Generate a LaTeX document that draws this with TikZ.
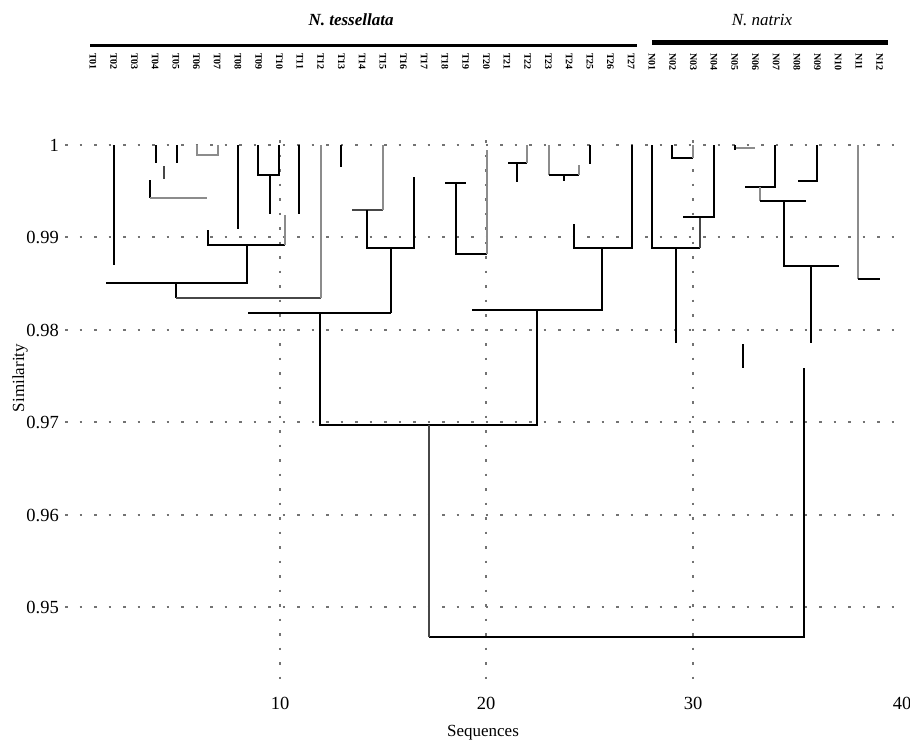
\documentclass[tikz,border=0pt]{standalone}
\usepackage{fontspec}
\setmainfont{Liberation Serif}
\begin{document}
\begin{tikzpicture}[x=1pt,y=-1pt,
  br/.style={line width=2.6pt, black},
  gr/.style={line width=2.6pt, black!45},
  dg/.style={line width=2.6pt, black!72},
  gridline/.style={line width=2.2pt, black!55, dash pattern=on 2.5pt off 12pt},
  ticklab/.style={font=\fontsize{18.5}{18.5}\selectfont, inner sep=1pt},
  leaflab/.style={font=\fontsize{10}{10}\selectfont\bfseries, rotate=-90, anchor=west, inner sep=0pt},
  head/.style={font=\fontsize{17}{17}\selectfont\itshape}]
\useasboundingbox (0,0) rectangle (910,744);
% grid
\foreach \yy in {145,237,330,422,515,607} \draw[gridline] (65,\yy) -- (895,\yy);
\foreach \xx in {280,486,693} \draw[gridline] (\xx,140) -- (\xx,690);
% axis labels
\node[ticklab, anchor=east] (y100) at (60,145) {1};
\node[ticklab, anchor=east] (y099) at (60,237) {0.99};
\node[ticklab, anchor=east] (y098) at (60,330) {0.98};
\node[ticklab, anchor=east] (y097) at (60,422) {0.97};
\node[ticklab, anchor=east] (y096) at (60,515) {0.96};
\node[ticklab, anchor=east] (y095) at (60,607) {0.95};
\node[ticklab] (x10) at (280,703) {10};
\node[ticklab] (x20) at (486,703) {20};
\node[ticklab] (x30) at (693,703) {30};
\node[ticklab] (x40) at (902,703) {40};
\node[ticklab, font=\fontsize{17}{17}\selectfont] (xlab) at (483,733) {Sequences};
\node[ticklab, font=\fontsize{17}{17}\selectfont, rotate=90] (ylab) at (20,378) {Similarity};
% headers
\node[head, font=\fontsize{17}{17}\selectfont\bfseries\itshape] (ht) at (351,20) {N. tessellata};
\node[head] (hn) at (762,20) {N. natrix};
\draw[line width=3pt] (90,45) -- (637,45);
\draw[line width=5pt] (652,42) -- (888,42);
% leaf labels
\foreach \i in {1,...,9} \node[leaflab] (lt\i) at ({93+(\i-1)*20.7},53) {T0\i};
\foreach \i in {10,...,27} \node[leaflab] (lt\i) at ({93+(\i-1)*20.7},53) {T\i};
\foreach \i in {1,...,9} \node[leaflab] (ln\i) at ({93+(\i+26)*20.7},53) {N0\i};
\foreach \i in {10,...,12} \node[leaflab] (ln\i) at ({93+(\i+26)*20.7},53) {N\i};
% N. tessellata cluster
\draw[br] (114,145) -- (114,265);
\draw[br] (106,283) -- (247,283) -- (247,245);
\draw[br] (208,230) -- (208,245) -- (285,245);
\draw[gr] (285,245) -- (285,215);
\draw[br] (176,283) -- (176,298);
\draw[dg] (176,298) -- (321,298);
\draw[gr] (321,298) -- (321,145);
\draw[br] (238,145) -- (238,229);
\draw[br] (258,145) -- (258,175) -- (279,175) -- (279,145);
\draw[br] (270,175) -- (270,214);
\draw[br] (299,145) -- (299,214);
\draw[br] (156,145) -- (156,163);
\draw[br] (177,145) -- (177,163);
\draw[dg] (164,166) -- (164,179);
\draw[br] (150,180) -- (150,198);
\draw[gr] (150,198) -- (207,198);
\draw[gr] (197,145) -- (197,155) -- (218,155) -- (218,145);
\draw[br] (341,145) -- (341,167);
\draw[dg] (352,210) -- (383,210);
\draw[gr] (383,210) -- (383,145);
\draw[br] (367,210) -- (367,248) -- (414,248) -- (414,177);
\draw[br] (391,248) -- (391,313);
\draw[br] (248,313) -- (391,313);
\draw[br] (320,313) -- (320,425) -- (537,425) -- (537,311);
\draw[br] (472,310) -- (602,310) -- (602,248);
\draw[br] (574,224) -- (574,248) -- (632,248) -- (632,145);
\draw[br] (445,183) -- (466,183);
\draw[br] (456,183) -- (456,254) -- (487,254);
\draw[gr] (487,254) -- (487,150);
\draw[br] (508,163) -- (527,163);
\draw[br] (517,163) -- (517,182);
\draw[gr] (527,145) -- (527,163);
\draw[gr] (549,145) -- (549,175);
\draw[br] (549,175) -- (579,175);
\draw[gr] (579,175) -- (579,165);
\draw[br] (564,175) -- (564,181);
\draw[br] (590,145) -- (590,164);
% N. natrix cluster
\draw[br] (652,145) -- (652,248) -- (700,248);
\draw[br] (676,248) -- (676,343);
\draw[dg] (700,248) -- (700,217);
\draw[br] (683,217) -- (714,217) -- (714,145);
\draw[br] (672,145) -- (672,158) -- (693,158);
\draw[gr] (693,158) -- (693,145);
\draw[gr] (735,148) -- (755,148);
\draw[br] (735,145) -- (735,150);
\draw[br] (775,145) -- (775,187) -- (745,187);
\draw[gr] (760,187) -- (760,201);
\draw[br] (760,201) -- (806,201);
\draw[br] (784,201) -- (784,266) -- (839,266);
\draw[br] (811,266) -- (811,343);
\draw[br] (817,145) -- (817,181) -- (798,181);
\draw[gr] (858,145) -- (858,279);
\draw[br] (858,279) -- (880,279);
\draw[br] (743,344) -- (743,368);
% root
\draw[br] (804,368) -- (804,637) -- (429,637);
\draw[dg] (429,637) -- (429,425);
\end{tikzpicture}
\end{document}
